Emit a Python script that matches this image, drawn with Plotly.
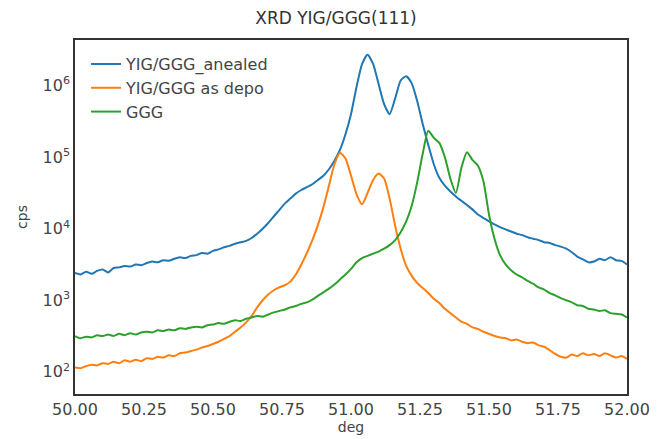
import numpy as np
import plotly.graph_objects as go

# scan positions (deg), 0.02 deg step
deg = np.round(np.linspace(50.0, 52.0, 101), 2)

annealed = [2400, 2290, 2510, 2340, 2570, 2690, 2450, 2820, 2880, 3020,
            2950, 3160, 3090, 3310, 3470, 3390, 3630, 3550, 3800, 3980,
            3890, 4170, 4270, 4570, 4470, 4900, 5130, 5500, 5750, 6170,
            6460, 6760, 7410, 8510, 10000, 12000, 14800, 18200, 22400, 26300,
            30900, 34700, 38000, 41700, 47900, 55000, 67600, 89100, 126000, 209000,
            398000, 955000, 1995000, 2690000, 2000000, 1047000, 550000, 398000, 661000, 1175000,
            1349000, 1072000, 603000, 288000, 148000, 79400, 51300, 39800, 33100, 28200,
            24500, 21400, 18600, 15800, 14100, 12600, 11500, 10500, 9770, 9120,
            8510, 8130, 7590, 7240, 6920, 6460, 6310, 5890, 5620, 5250,
            4680, 4070, 3720, 3390, 3470, 3800, 3630, 3980, 3630, 3550,
            3160]

as_depo = [115, 112, 120, 126, 123, 132, 129, 138, 132, 145,
           138, 148, 141, 155, 151, 162, 158, 170, 166, 182,
           186, 195, 204, 219, 229, 245, 263, 288, 316, 363,
           417, 490, 603, 794, 1000, 1200, 1380, 1510, 1620, 1820,
           2290, 3160, 4570, 6920, 11200, 20000, 39800, 79400, 115000, 95500,
           55000, 30200, 21900, 31600, 47900, 58900, 50100, 26300, 11000, 5250,
           3020, 2190, 1740, 1480, 1260, 1050, 912, 759, 661, 575,
           501, 468, 417, 398, 363, 339, 316, 302, 295, 275,
           282, 263, 251, 257, 234, 224, 200, 178, 162, 158,
           174, 166, 182, 170, 178, 166, 182, 170, 158, 166,
           151]

ggg = [316, 295, 309, 302, 324, 316, 331, 316, 339, 324,
       347, 331, 355, 363, 355, 380, 372, 389, 380, 407,
       398, 417, 427, 417, 447, 457, 479, 468, 501, 525,
       513, 550, 575, 603, 589, 631, 676, 708, 741, 794,
       832, 891, 933, 1020, 1150, 1290, 1450, 1660, 1950, 2290,
       2750, 3390, 3890, 4170, 4470, 4790, 5250, 5890, 6920, 8910,
       12600, 20900, 44700, 112000, 234000, 186000, 158000, 100000, 50100, 31600,
       70800, 117000, 91200, 75900, 45700, 15800, 7240, 4270, 3160, 2630,
       2290, 2090, 1860, 1700, 1510, 1410, 1260, 1170, 1070, 1000,
       933, 851, 832, 759, 741, 708, 724, 661, 646, 631,
       575]

series_names = ["YIG/GGG_anealed", "YIG/GGG as depo", "GGG"]
colors = ["#1f77b4", "#ff7f0e", "#2ca02c"]
x_ticks = [50.0, 50.25, 50.5, 50.75, 51.0, 51.25, 51.5, 51.75, 52.0]
y_ticks = [1e2, 1e3, 1e4, 1e5, 1e6]
y_ticktext = ["10<sup>2</sup>", "10<sup>3</sup>", "10<sup>4</sup>", "10<sup>5</sup>", "10<sup>6</sup>"]

fig = go.Figure()
for name, ys, c in zip(series_names, [annealed, as_depo, ggg], colors):
    fig.add_trace(go.Scatter(x=deg, y=ys, mode="lines", name=name,
                             line=dict(color=c, width=2, shape="spline", smoothing=0.6)))

# the page body adds an 8px offset; figure is sized to fit the window
font_family = "DejaVu Sans"
fig.update_layout(
    width=656, height=431,
    margin=dict(l=67, r=37, t=32, b=45, autoexpand=False),
    paper_bgcolor="white", plot_bgcolor="white",
    font=dict(family=font_family, size=15, color="#444"),
    title=dict(text="XRD YIG/GGG(111)", x=0.5, xanchor="center", y=0.977, yanchor="middle",
               font=dict(size=17, color="#333")),
    showlegend=True,
    legend=dict(x=0.02, y=0.98, xanchor="left", yanchor="top", bgcolor="rgba(0,0,0,0)",
                font=dict(size=16, color="#444"), tracegroupgap=0, itemwidth=30),
)
fig.update_xaxes(range=[50, 52], tickvals=x_ticks, ticktext=[f"{v:.2f}" for v in x_ticks],
                 showgrid=False, zeroline=False, showline=True, mirror=True, automargin=False,
                 linecolor="#333", linewidth=1.5, ticks="", tickfont=dict(size=16),
                 title=dict(text="deg", standoff=0, font=dict(size=14)))
fig.update_yaxes(type="log", range=[1.69, 6.636], tickvals=y_ticks, ticktext=y_ticktext,
                 showgrid=False, zeroline=False, showline=True, automargin=False,
                 mirror=True, linecolor="#333", linewidth=1.5, ticks="", tickfont=dict(size=16),
                 title=dict(text="cps", standoff=12, font=dict(size=14)))

fig.write_html("out.html")
